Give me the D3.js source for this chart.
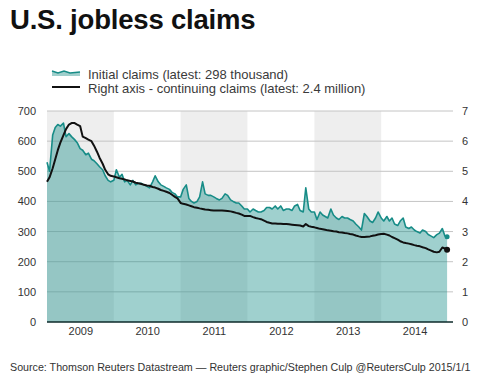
<!DOCTYPE html>
<html>
<head>
<meta charset="utf-8">
<script src="https://cdn.jsdelivr.net/npm/d3@7"></script>
<style>
  body { margin: 0; background: #fff; }
  svg { display: block; font-family: "Liberation Sans", Arial, sans-serif; }
</style>
</head>
<body>
<div id="chart"></div>
<script>
const initialClaims = [
  // 2009
  530, 500, 620, 645, 655, 650, 660, 615, 625, 615, 605, 595, 575, 570, 555, 560, 540, 535, 525, 515, 505, 485, 470, 465,
  // 2010
  470, 505, 480, 490, 465, 470, 455, 470, 455, 460, 460, 455, 450, 445, 465, 485, 465, 455, 450, 445, 440, 430, 425, 415,
  // 2011
  415, 440, 455, 410, 400, 395, 400, 415, 465, 425, 420, 420, 415, 410, 405, 410, 425, 420, 405, 400, 395, 395, 385, 375,
  // 2012
  375, 365, 375, 370, 365, 365, 370, 380, 380, 375, 385, 375, 385, 370, 375, 375, 370, 385, 390, 370, 365, 445, 375, 365,
  // 2013
  365, 340, 365, 355, 350, 345, 375, 355, 345, 340, 350, 345, 345, 340, 335, 325, 315, 305, 360, 350, 335, 330, 345, 365,
  // 2014
  345, 335, 350, 335, 345, 325, 320, 335, 345, 315, 310, 315, 305, 300, 295, 305, 300, 290, 285, 280, 290, 295, 310, 285,
  283
];

// continuing claims, millions (right axis)
const continuingClaims = [
  4.65, 4.8, 5.1, 5.4, 5.7, 5.95, 6.2, 6.4, 6.55, 6.6, 6.6, 6.55, 6.5, 6.15, 6.1, 6.05, 6.0, 5.85, 5.65, 5.45, 5.25, 5.05, 4.9, 4.85,
  4.83, 4.8, 4.77, 4.75, 4.73, 4.7, 4.68, 4.66, 4.62, 4.6, 4.58, 4.55, 4.53, 4.52, 4.48, 4.46, 4.42, 4.38, 4.35, 4.32, 4.28, 4.22, 4.15, 4.1,
  3.95, 3.92, 3.9, 3.87, 3.84, 3.81, 3.79, 3.77, 3.75, 3.73, 3.72, 3.71, 3.7, 3.7, 3.7, 3.7, 3.69, 3.68, 3.67, 3.65, 3.62, 3.6, 3.56, 3.52,
  3.52, 3.52, 3.48, 3.45, 3.43, 3.41, 3.36, 3.32, 3.29, 3.27, 3.27, 3.26, 3.26, 3.25, 3.25, 3.24, 3.23, 3.22, 3.21, 3.2, 3.17, 3.25, 3.18, 3.16,
  3.14, 3.12, 3.09, 3.08, 3.06, 3.04, 3.03, 3.01, 3.0, 2.98, 2.97, 2.95, 2.94, 2.92, 2.9, 2.87, 2.84, 2.82, 2.82, 2.83, 2.84, 2.86, 2.88, 2.9,
  2.92, 2.93, 2.9, 2.87, 2.82, 2.78, 2.73, 2.68, 2.64, 2.62, 2.6, 2.58, 2.55, 2.53, 2.51, 2.48, 2.45, 2.41, 2.37, 2.33, 2.31, 2.33, 2.47, 2.44,
  2.4
];

const years = [2009, 2010, 2011, 2012, 2013, 2014];
const shadedYears = [2009, 2011, 2013];
const leftTicks = [0, 100, 200, 300, 400, 500, 600, 700];
const rightTicks = [0, 1, 2, 3, 4, 5, 6, 7];

const dates = d3.timeMonth.range(new Date(2009, 0, 1), new Date(2015, 0, 1))
  .flatMap(m => [m, d3.timeDay.offset(m, 14)]);
dates.push(new Date(2014, 11, 27));

const data = dates.map((d, i) => ({ date: d, initial: initialClaims[i], cont: continuingClaims[i] }));

const W = 500, H = 376;
const plotL = 47, plotR = 453, plotT = 111, plotB = 322;

const svg = d3.select("#chart").append("svg")
  .attr("width", W)
  .attr("height", H);

const x = d3.scaleTime()
  .domain([new Date(2009, 0, 1), new Date(2015, 0, 1)])
  .range([plotL, 448]);
const y = d3.scaleLinear().domain([0, 700]).range([plotB, plotT]);
const y2 = d3.scaleLinear().domain([0, 7]).range([plotB, plotT]);

// title
svg.append("text")
  .attr("x", 10).attr("y", 29)
  .style("font-size", "27.5px").style("font-weight", "bold")
  .style("letter-spacing", "-0.2px")
  .attr("fill", "#111")
  .text("U.S. jobless claims");

// legend
const lg = svg.append("g");
lg.append("path")
  .attr("d", "M52,71 L58,73 L64,71 L70,73 L80,72 L80,76 L52,76 Z")
  .attr("fill", "#9fcfcc");
lg.append("path")
  .attr("d", "M52,71 L58,73 L64,71 L70,73 L80,72")
  .attr("fill", "none").attr("stroke", "#178c87").attr("stroke-width", 1.5);
lg.append("line")
  .attr("x1", 52).attr("x2", 80).attr("y1", 87).attr("y2", 87)
  .attr("stroke", "#111").attr("stroke-width", 2);
lg.append("text").attr("x", 88).attr("y", 79)
  .style("font-size", "13px").attr("fill", "#3a3a3a")
  .text("Initial claims (latest: 298 thousand)");
lg.append("text").attr("x", 88).attr("y", 93)
  .style("font-size", "13px").attr("fill", "#3a3a3a")
  .text("Right axis - continuing claims (latest: 2.4 million)");

// alternate year bands
svg.append("g").selectAll("rect")
  .data(shadedYears)
  .join("rect")
    .attr("x", d => x(new Date(d, 0, 1)))
    .attr("width", d => x(new Date(d + 1, 0, 1)) - x(new Date(d, 0, 1)))
    .attr("y", plotT)
    .attr("height", plotB - plotT)
    .attr("fill", "#eeeeee");

// gridlines
svg.append("g").selectAll("line")
  .data(leftTicks.filter(d => d > 0))
  .join("line")
    .attr("x1", plotL).attr("x2", plotR)
    .attr("y1", d => y(d)).attr("y2", d => y(d))
    .attr("stroke", "#c4c4c4").attr("stroke-width", 1);

// initial claims area + line
const area = d3.area()
  .x(d => x(d.date))
  .y0(y(0))
  .y1(d => y(d.initial));

svg.append("path")
  .datum(data)
  .attr("d", area)
  .attr("fill", "#178c87")
  .attr("fill-opacity", 0.41);

svg.append("path")
  .datum(data)
  .attr("d", d3.line().x(d => x(d.date)).y(d => y(d.initial)))
  .attr("fill", "none")
  .attr("stroke", "#178c87")
  .attr("stroke-width", 1.6)
  .attr("stroke-linejoin", "round");

svg.append("path")
  .datum(data)
  .attr("d", d3.line().x(d => x(d.date)).y(d => y2(d.cont)))
  .attr("fill", "none")
  .attr("stroke", "#111")
  .attr("stroke-width", 2)
  .attr("stroke-linejoin", "round");

const last = data[data.length - 1];
svg.append("circle")
  .attr("cx", x(last.date)).attr("cy", y(last.initial)).attr("r", 2.5)
  .attr("fill", "#178c87");
svg.append("circle")
  .attr("cx", x(last.date)).attr("cy", y2(last.cont)).attr("r", 3)
  .attr("fill", "#111");

// baseline
svg.append("line")
  .attr("x1", plotL).attr("x2", plotR)
  .attr("y1", plotB).attr("y2", plotB)
  .attr("stroke", "#0d2a2a").attr("stroke-width", 1.5);

// axes
const yAxisL = svg.append("g")
  .attr("transform", `translate(${plotL},0)`)
  .call(d3.axisLeft(y).tickValues(leftTicks).tickSize(0).tickPadding(11));
const yAxisR = svg.append("g")
  .attr("transform", `translate(${plotR},0)`)
  .call(d3.axisRight(y2).tickValues(rightTicks).tickFormat(d3.format("d")).tickSize(0).tickPadding(9));
const xAxis = svg.append("g")
  .attr("transform", `translate(0,${plotB})`)
  .call(d3.axisBottom(x)
    .tickValues(years.map(yr => new Date(yr, 6, 2)))
    .tickFormat(d3.timeFormat("%Y"))
    .tickSize(0).tickPadding(5));

[yAxisL, yAxisR, xAxis].forEach(g => {
  g.select(".domain").remove();
  g.selectAll("text")
    .style("font-family", "'Liberation Sans', Arial, sans-serif")
    .style("font-size", "11px")
    .attr("fill", "#333");
});

// source
svg.append("text")
  .attr("x", 10).attr("y", 371)
  .style("font-size", "10.7px").attr("fill", "#333")
  .text("Source: Thomson Reuters Datastream \u2014 Reuters graphic/Stephen Culp @ReutersCulp 2015/1/1");
</script>
</body>
</html>
